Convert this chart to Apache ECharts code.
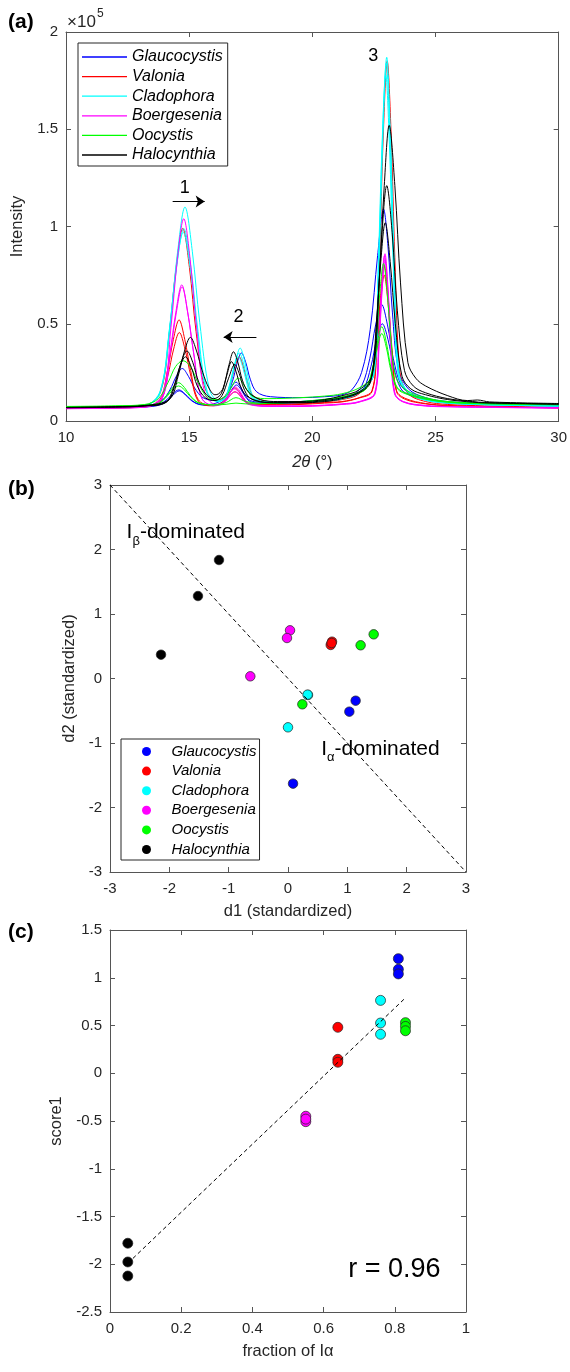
<!DOCTYPE html>
<html>
<head>
<meta charset="utf-8">
<script src="https://cdn.jsdelivr.net/npm/echarts@6/dist/echarts.min.js"></script>
<style>
  html, body { margin: 0; padding: 0; background: #fff; }
  #chart { width: 570px; height: 1372px; }
</style>
</head>
<body>
<div id="chart"></div>
<script>
// ---- (a) XRD profiles: [2theta (deg), intensity (x1e5)], three samples per species ----
const glaucocystisXRD = [
  [[10,0.068],[12,0.07],[13.2,0.076],[13.88,0.105],[14.22,0.16],[14.47,0.228],[14.72,0.27],[14.97,0.23],[15.22,0.17],[15.56,0.12],[16.1,0.105],[16.5,0.135],[16.76,0.205],[16.94,0.295],[17.12,0.35],[17.3,0.3],[17.48,0.215],[17.74,0.15],[18.3,0.125],[19.5,0.12],[20.5,0.125],[21.2,0.135],[21.6,0.16],[22.0,0.25],[22.35,0.47],[22.65,0.85],[22.89,1.09],[23.07,0.9],[23.25,0.56],[23.49,0.27],[23.9,0.165],[24.6,0.12],[25.5,0.1],[27,0.09],[30,0.08]],
  [[10,0.067],[12,0.069],[13.2,0.074],[13.78,0.086],[14.1,0.111],[14.34,0.141],[14.58,0.16],[14.82,0.141],[15.06,0.111],[15.38,0.088],[15.8,0.085],[16.3,0.104],[16.54,0.136],[16.72,0.176],[16.9,0.2],[17.08,0.176],[17.26,0.136],[17.5,0.104],[18.2,0.095],[19.5,0.1],[20.5,0.11],[21.2,0.12],[21.6,0.13],[22.01,0.182],[22.33,0.32],[22.57,0.494],[22.81,0.6],[23.05,0.494],[23.29,0.32],[23.61,0.182],[24.0,0.14],[24.6,0.115],[25.5,0.095],[27,0.088],[30,0.078]],
  [[10,0.066],[12,0.068],[13.2,0.072],[13.8,0.082],[14.12,0.106],[14.36,0.135],[14.6,0.155],[14.84,0.135],[15.08,0.106],[15.4,0.085],[15.9,0.08],[16.32,0.095],[16.56,0.125],[16.74,0.163],[16.92,0.185],[17.1,0.163],[17.28,0.125],[17.52,0.097],[18.2,0.09],[19.5,0.095],[20.5,0.105],[21.2,0.115],[21.7,0.13],[22.08,0.165],[22.38,0.28],[22.61,0.42],[22.84,0.5],[23.07,0.42],[23.3,0.28],[23.6,0.165],[24.0,0.13],[24.6,0.11],[25.5,0.092],[27,0.085],[30,0.076]]
];
const valoniaXRD = [
  [[10,0.066],[12,0.07],[13.2,0.08],[13.84,0.15],[14.2,0.46],[14.47,0.79],[14.74,0.99],[15.01,0.79],[15.28,0.46],[15.64,0.17],[16.1,0.105],[16.47,0.13],[16.7,0.2],[16.86,0.28],[17.03,0.33],[17.2,0.28],[17.37,0.2],[17.6,0.13],[18.2,0.1],[19.5,0.095],[20.5,0.1],[21.2,0.11],[21.9,0.14],[22.52,0.25],[22.73,0.84],[22.88,1.47],[23.04,1.85],[23.2,1.47],[23.35,0.84],[23.56,0.25],[23.9,0.14],[24.6,0.1],[25.5,0.085],[27,0.078],[30,0.07]],
  [[10,0.064],[12,0.067],[13.2,0.074],[13.81,0.11],[14.12,0.26],[14.36,0.42],[14.59,0.52],[14.82,0.42],[15.06,0.26],[15.37,0.11],[15.9,0.08],[16.29,0.092],[16.51,0.12],[16.68,0.151],[16.85,0.17],[17.02,0.151],[17.19,0.12],[17.41,0.092],[18.2,0.085],[19.5,0.088],[20.5,0.095],[21.2,0.1],[21.9,0.12],[22.42,0.156],[22.62,0.394],[22.77,0.646],[22.92,0.8],[23.07,0.646],[23.22,0.394],[23.42,0.156],[23.8,0.115],[24.6,0.09],[25.5,0.08],[27,0.075],[30,0.068]],
  [[10,0.065],[12,0.068],[13.2,0.074],[13.82,0.1],[14.13,0.23],[14.37,0.37],[14.6,0.455],[14.83,0.37],[15.07,0.23],[15.38,0.1],[15.9,0.078],[16.3,0.088],[16.52,0.11],[16.69,0.136],[16.86,0.15],[17.03,0.136],[17.2,0.11],[17.42,0.088],[18.2,0.082],[19.5,0.085],[20.5,0.092],[21.2,0.098],[21.9,0.118],[22.42,0.15],[22.62,0.37],[22.77,0.61],[22.92,0.75],[23.07,0.61],[23.22,0.37],[23.42,0.15],[23.8,0.11],[24.6,0.088],[25.5,0.078],[27,0.074],[30,0.067]]
];
const cladophoraXRD = [
  [[10,0.07],[12,0.073],[13.2,0.08],[13.83,0.157],[14.23,0.505],[14.53,0.87],[14.83,1.1],[15.13,0.87],[15.43,0.505],[15.83,0.16],[16.2,0.105],[16.51,0.122],[16.73,0.216],[16.9,0.315],[17.07,0.375],[17.24,0.315],[17.41,0.216],[17.63,0.122],[18.2,0.1],[19.5,0.1],[20.5,0.108],[21.2,0.118],[21.9,0.15],[22.52,0.25],[22.72,0.85],[22.87,1.48],[23.02,1.87],[23.17,1.48],[23.32,0.85],[23.52,0.25],[23.9,0.15],[24.6,0.11],[25.5,0.095],[27,0.085],[30,0.078]],
  [[10,0.07],[12,0.073],[13.2,0.08],[13.82,0.145],[14.2,0.46],[14.49,0.79],[14.78,0.99],[15.07,0.79],[15.36,0.46],[15.74,0.15],[16.2,0.1],[16.47,0.12],[16.69,0.205],[16.86,0.3],[17.03,0.35],[17.2,0.3],[17.37,0.205],[17.59,0.12],[18.2,0.098],[19.5,0.098],[20.5,0.105],[21.2,0.115],[21.9,0.148],[22.5,0.245],[22.7,0.84],[22.85,1.46],[23.0,1.84],[23.15,1.46],[23.3,0.84],[23.5,0.245],[23.9,0.148],[24.6,0.108],[25.5,0.093],[27,0.084],[30,0.077]],
  [[10,0.069],[12,0.072],[13.2,0.079],[13.8,0.14],[14.18,0.45],[14.47,0.78],[14.76,0.97],[15.05,0.78],[15.34,0.45],[15.72,0.145],[16.2,0.098],[16.44,0.118],[16.66,0.195],[16.83,0.28],[17.0,0.33],[17.17,0.28],[17.34,0.195],[17.56,0.118],[18.2,0.096],[19.5,0.096],[20.5,0.103],[21.2,0.113],[21.9,0.145],[22.48,0.24],[22.68,0.82],[22.83,1.42],[22.98,1.78],[23.13,1.42],[23.28,0.82],[23.48,0.24],[23.9,0.145],[24.6,0.106],[25.5,0.092],[27,0.083],[30,0.076]]
];
const boergeseniaXRD = [
  [[10,0.065],[12,0.068],[13.2,0.072],[13.92,0.14],[14.26,0.48],[14.52,0.83],[14.78,1.04],[15.04,0.83],[15.3,0.48],[15.64,0.14],[16.1,0.085],[16.32,0.09],[16.55,0.12],[16.71,0.155],[16.88,0.175],[17.05,0.155],[17.21,0.12],[17.44,0.09],[18.2,0.078],[19.5,0.078],[20.5,0.082],[21.2,0.088],[21.9,0.1],[22.55,0.145],[22.71,0.41],[22.83,0.69],[22.95,0.86],[23.07,0.69],[23.19,0.41],[23.35,0.145],[23.7,0.1],[24.6,0.08],[25.5,0.075],[27,0.072],[30,0.068]],
  [[10,0.064],[12,0.067],[13.2,0.072],[13.9,0.12],[14.22,0.35],[14.46,0.56],[14.7,0.7],[14.94,0.56],[15.18,0.35],[15.5,0.12],[16.0,0.08],[16.29,0.088],[16.52,0.115],[16.68,0.148],[16.85,0.165],[17.02,0.148],[17.18,0.115],[17.41,0.088],[18.2,0.076],[19.5,0.076],[20.5,0.08],[21.2,0.086],[21.9,0.098],[22.53,0.143],[22.69,0.4],[22.81,0.68],[22.93,0.85],[23.05,0.68],[23.17,0.4],[23.33,0.143],[23.7,0.098],[24.6,0.078],[25.5,0.074],[27,0.071],[30,0.067]],
  [[10,0.063],[12,0.066],[13.2,0.071],[13.91,0.118],[14.23,0.345],[14.47,0.55],[14.71,0.69],[14.95,0.55],[15.19,0.345],[15.51,0.118],[16.0,0.078],[16.3,0.085],[16.53,0.108],[16.69,0.136],[16.86,0.15],[17.03,0.136],[17.19,0.108],[17.42,0.085],[18.2,0.075],[19.5,0.075],[20.5,0.079],[21.2,0.085],[21.9,0.097],[22.55,0.14],[22.71,0.39],[22.83,0.665],[22.95,0.83],[23.07,0.665],[23.19,0.39],[23.35,0.14],[23.7,0.097],[24.6,0.077],[25.5,0.073],[27,0.07],[30,0.066]]
];
const oocystisXRD = [
  [[10,0.075],[12,0.078],[13.2,0.085],[13.75,0.115],[14.15,0.2],[14.45,0.28],[14.75,0.31],[15.05,0.28],[15.35,0.2],[15.75,0.12],[16.15,0.11],[16.5,0.13],[16.72,0.175],[16.88,0.21],[17.0,0.22],[17.15,0.2],[17.35,0.16],[17.6,0.125],[18.2,0.115],[19.5,0.12],[20.5,0.128],[21.2,0.14],[21.9,0.17],[22.39,0.225],[22.59,0.42],[22.74,0.66],[22.89,0.81],[23.04,0.66],[23.19,0.42],[23.39,0.225],[23.8,0.16],[24.6,0.12],[25.5,0.1],[27,0.092],[30,0.085]],
  [[10,0.073],[12,0.076],[13.2,0.082],[13.77,0.092],[14.09,0.13],[14.33,0.172],[14.57,0.197],[14.81,0.172],[15.05,0.13],[15.37,0.095],[16.0,0.082],[16.5,0.086],[16.9,0.092],[17.3,0.088],[18.2,0.09],[19.5,0.1],[20.5,0.112],[21.2,0.125],[21.8,0.145],[22.18,0.17],[22.44,0.27],[22.63,0.4],[22.82,0.485],[23.01,0.4],[23.2,0.27],[23.46,0.17],[23.9,0.14],[24.6,0.115],[25.5,0.098],[27,0.09],[30,0.084]],
  [[10,0.072],[12,0.075],[13.2,0.08],[13.77,0.09],[14.09,0.125],[14.33,0.16],[14.57,0.18],[14.81,0.16],[15.05,0.125],[15.37,0.093],[16.0,0.083],[16.5,0.095],[16.9,0.12],[17.3,0.1],[18.2,0.09],[19.5,0.098],[20.5,0.108],[21.2,0.12],[21.8,0.14],[22.18,0.165],[22.44,0.255],[22.63,0.375],[22.82,0.45],[23.01,0.375],[23.2,0.255],[23.46,0.165],[23.9,0.135],[24.6,0.112],[25.5,0.096],[27,0.088],[30,0.083]]
];
const halocynthiaXRD = [
  [[10,0.07],[12,0.074],[13.2,0.08],[14.21,0.113],[14.55,0.23],[14.8,0.355],[15.05,0.43],[15.3,0.36],[15.55,0.25],[15.8,0.17],[16.05,0.135],[16.2,0.14],[16.38,0.17],[16.62,0.29],[16.8,0.356],[16.98,0.3],[17.16,0.21],[17.4,0.15],[17.9,0.11],[18.6,0.1],[19.5,0.1],[20.5,0.11],[21.2,0.13],[21.9,0.16],[22.44,0.24],[22.71,0.71],[22.92,1.21],[23.12,1.52],[23.35,1.21],[23.58,0.71],[23.88,0.3],[24.2,0.22],[24.6,0.18],[25.5,0.13],[26.3,0.105],[26.7,0.108],[27.2,0.098],[30,0.09]],
  [[10,0.069],[12,0.072],[13.2,0.078],[14.11,0.1],[14.43,0.19],[14.67,0.3],[14.91,0.36],[15.15,0.3],[15.39,0.2],[15.7,0.135],[16.0,0.115],[16.3,0.14],[16.54,0.24],[16.72,0.305],[16.9,0.255],[17.08,0.18],[17.32,0.13],[17.9,0.1],[18.6,0.095],[19.5,0.095],[20.5,0.105],[21.2,0.12],[21.9,0.15],[22.38,0.215],[22.64,0.57],[22.83,0.97],[23.02,1.21],[23.24,0.97],[23.45,0.57],[23.74,0.26],[24.1,0.18],[24.6,0.145],[25.5,0.115],[26.5,0.1],[27,0.095],[30,0.087]],
  [[10,0.068],[12,0.071],[13.2,0.077],[14.05,0.095],[14.37,0.175],[14.61,0.275],[14.85,0.33],[15.09,0.275],[15.33,0.18],[15.65,0.12],[16.05,0.105],[16.33,0.13],[16.6,0.22],[16.85,0.29],[17.03,0.245],[17.21,0.17],[17.45,0.12],[17.9,0.098],[18.6,0.093],[19.5,0.093],[20.5,0.1],[21.2,0.115],[21.9,0.145],[22.36,0.2],[22.6,0.5],[22.78,0.82],[22.96,1.02],[23.16,0.82],[23.37,0.5],[23.64,0.23],[24.0,0.165],[24.6,0.135],[25.5,0.11],[26.5,0.097],[27,0.093],[30,0.086]]
];
// peak numbers [2theta, intensity, text] and shift arrows [from, to, intensity]
const peakLabels = [[14.82, 1.2, '1'], [17.0, 0.535, '2'], [22.47, 1.876, '3']];
const shiftArrows = [[14.33, 15.63, 1.128], [17.73, 16.4, 0.432]];

// ---- (b) standardized descriptors [d1, d2] ----
const glaucocystisD = [[1.14, -0.344], [1.034, -0.514], [0.085, -1.63]];
const valoniaD = [[0.742, 0.571], [0.72, 0.52], [0.735, 0.55]];
const cladophoraD = [[0.337, -0.256], [0.0, -0.757], [0.33, -0.25]];
const boergeseniaD = [[0.034, 0.747], [-0.017, 0.628], [-0.635, 0.034]];
const oocystisD = [[1.444, 0.685], [1.224, 0.515], [0.242, -0.4]];
const halocynthiaD = [[-1.163, 1.837], [-1.517, 1.279], [-2.14, 0.369]];
const dividerLine = [[-3, 3], [3, -3]];

// ---- (c) fraction of I-alpha vs score1 ----
const glaucocystisScore = [[0.81, 1.2], [0.81, 1.088], [0.81, 1.04]];
const valoniaScore = [[0.64, 0.481], [0.64, 0.146], [0.64, 0.115]];
const cladophoraScore = [[0.76, 0.763], [0.76, 0.526], [0.76, 0.408]];
const boergeseniaScore = [[0.55, -0.45], [0.55, -0.507], [0.55, -0.48]];
const oocystisScore = [[0.83, 0.53], [0.83, 0.49], [0.83, 0.445]];
const halocynthiaScore = [[0.05, -1.78], [0.05, -1.976], [0.05, -2.123]];
const fitLine = [[0.05, -1.99], [0.83, 0.79]];

const species = ['Glaucocystis', 'Valonia', 'Cladophora', 'Boergesenia', 'Oocystis', 'Halocynthia'];
const colors = ['#0000ff', '#ff0000', '#00ffff', '#ff00ff', '#00ff00', '#000000'];
const xrd = [glaucocystisXRD, valoniaXRD, cladophoraXRD, boergeseniaXRD, oocystisXRD, halocynthiaXRD];
const dPoints = [glaucocystisD, valoniaD, cladophoraD, boergeseniaD, oocystisD, halocynthiaD];
const scorePoints = [glaucocystisScore, valoniaScore, cladophoraScore, boergeseniaScore, oocystisScore, halocynthiaScore];

const font = 'Liberation Sans, Arial, Helvetica, sans-serif';
const textColor = '#262626';
const boxColor = '#555';

function xAxisFor(grid, min, max, interval, top, name, nameGap) {
  return {
    type: 'value', gridIndex: grid, min: min, max: max, interval: interval,
    position: top ? 'top' : 'bottom',
    axisLine: { show: true, onZero: false, lineStyle: { color: boxColor, width: 1 } },
    axisTick: { show: true, inside: true, length: 5, lineStyle: { color: boxColor } },
    axisLabel: { show: !top, margin: 9, color: textColor, fontSize: 15, fontFamily: font },
    splitLine: { show: false },
    name: top ? '' : name, nameLocation: 'middle', nameGap: nameGap,
    nameTextStyle: { color: textColor, fontSize: 16.5, fontFamily: font,
      rich: { i: { fontStyle: 'italic', fontSize: 16.5, fontFamily: font, color: textColor } } }
  };
}
function yAxisFor(grid, min, max, interval, right, name, nameGap) {
  return {
    type: 'value', gridIndex: grid, min: min, max: max, interval: interval,
    position: right ? 'right' : 'left',
    axisLine: { show: true, onZero: false, lineStyle: { color: boxColor, width: 1 } },
    axisTick: { show: true, inside: true, length: 5, lineStyle: { color: boxColor } },
    axisLabel: { show: !right, margin: 8, color: textColor, fontSize: 15, fontFamily: font },
    splitLine: { show: false },
    name: right ? '' : name, nameLocation: 'middle', nameGap: nameGap,
    nameTextStyle: { color: textColor, fontSize: 16.5, fontFamily: font }
  };
}

const series = [];
xrd.forEach((curves, i) => {
  curves.forEach(c => {
    series.push({
      name: species[i], type: 'line', xAxisIndex: 0, yAxisIndex: 0,
      data: c, symbol: 'none', smooth: 0.35, silent: true,
      lineStyle: { color: colors[i], width: 1 }, itemStyle: { color: colors[i] }
    });
  });
});
series.push({
  type: 'scatter', xAxisIndex: 0, yAxisIndex: 0, data: [], silent: true,
  markPoint: {
    symbol: 'circle', symbolSize: 0, silent: true,
    label: { show: true, position: 'inside', color: '#000', fontSize: 18, fontFamily: font, formatter: p => p.name },
    data: peakLabels.map(p => ({ name: p[2], coord: [p[0], p[1]] }))
  },
  markLine: {
    symbol: ['none', 'arrow'], symbolSize: 9, silent: true, animation: false,
    label: { show: false },
    lineStyle: { color: '#000', type: 'solid', width: 1.2 },
    data: shiftArrows.map(a => [{ coord: [a[0], a[2]] }, { coord: [a[1], a[2]] }])
  }
});

// (b)
series.push({
  type: 'line', xAxisIndex: 2, yAxisIndex: 2, data: dividerLine, symbol: 'none', silent: true,
  lineStyle: { color: '#000', width: 1, type: [4, 3] },
  markPoint: {
    symbol: 'circle', symbolSize: 0, silent: true,
    label: {
      show: true, position: 'right', distance: 0, formatter: p => p.name,
      rich: {
        m: { fontSize: 21, fontFamily: font, color: '#000', verticalAlign: 'bottom', padding: [0, 0, 5, 0], lineHeight: 22 },
        s: { fontSize: 13, fontFamily: font, color: '#000', verticalAlign: 'bottom', lineHeight: 14 }
      }
    },
    data: [
      { name: '{m|I}{s|β}{m|-dominated}', coord: [-2.72, 2.2] },
      { name: '{m|I}{s|α}{m|-dominated}', coord: [0.56, -1.16] }
    ]
  }
});
dPoints.forEach((pts, i) => {
  series.push({
    name: species[i] + ' (b)', type: 'scatter', xAxisIndex: 2, yAxisIndex: 2,
    data: pts, symbol: 'circle', symbolSize: 9.5, silent: true,
    itemStyle: { color: colors[i], borderColor: '#222', borderWidth: 0.7, opacity: 1 }
  });
});

// (c)
series.push({
  type: 'line', xAxisIndex: 4, yAxisIndex: 4, data: fitLine, symbol: 'none', silent: true,
  lineStyle: { color: '#000', width: 1, type: [4, 3] },
  markPoint: {
    symbol: 'circle', symbolSize: 0, silent: true,
    label: { show: true, position: 'right', distance: 0, formatter: p => p.name, fontSize: 27, fontFamily: font, color: '#000' },
    data: [{ name: 'r = 0.96', coord: [0.669, -2.06] }]
  }
});
scorePoints.forEach((pts, i) => {
  series.push({
    name: species[i] + ' (c)', type: 'scatter', xAxisIndex: 4, yAxisIndex: 4,
    data: pts, symbol: 'circle', symbolSize: 10, silent: true,
    itemStyle: { color: colors[i], borderColor: '#222', borderWidth: 0.7, opacity: 1 }
  });
});

const chart = echarts.init(document.getElementById('chart'));
chart.setOption({
  animation: false,
  backgroundColor: '#fff',
  grid: [
    { left: 66, top: 32, width: 494, height: 389 },
    { left: 110, top: 485, width: 356, height: 387 },
    { left: 110, top: 930, width: 356, height: 382 }
  ],
  xAxis: [
    xAxisFor(0, 10, 30, 5, false, '{i|2θ} (°)', 33),
    xAxisFor(0, 10, 30, 5, true),
    xAxisFor(1, -3, 3, 1, false, 'd1 (standardized)', 31),
    xAxisFor(1, -3, 3, 1, true),
    xAxisFor(2, 0, 1, 0.2, false, 'fraction of Iα', 31),
    xAxisFor(2, 0, 1, 0.2, true)
  ],
  yAxis: [
    yAxisFor(0, 0, 2, 0.5, false, 'Intensity', 39),
    yAxisFor(0, 0, 2, 0.5, true),
    yAxisFor(1, -3, 3, 1, false, 'd2 (standardized)', 26),
    yAxisFor(1, -3, 3, 1, true),
    yAxisFor(2, -2.5, 1.5, 0.5, false, 'score1', 38),
    yAxisFor(2, -2.5, 1.5, 0.5, true)
  ],
  legend: [
    {
      data: species, orient: 'vertical', left: 78, top: 43,
      icon: 'rect', itemWidth: 45, itemHeight: 1.3, itemGap: 3.6, padding: [6, 5, 3, 4],
      borderColor: '#262626', borderWidth: 1, backgroundColor: '#fff',
      selectedMode: false,
      textStyle: { fontStyle: 'italic', fontSize: 16, lineHeight: 16, fontFamily: font, color: '#000' }
    },
    {
      data: species.map(s => s + ' (b)'), orient: 'vertical', left: 121, top: 739,
      icon: 'circle', itemWidth: 40, itemHeight: 9, itemGap: 4.6, padding: [5, 3, 3, 21],
      borderColor: '#262626', borderWidth: 1, backgroundColor: '#fff',
      selectedMode: false, itemStyle: { borderWidth: 0 },
      formatter: n => n.replace(' (b)', ''),
      textStyle: { fontStyle: 'italic', fontSize: 15, lineHeight: 15, fontFamily: font, color: '#000' }
    }
  ],
  graphic: [
    { type: 'text', left: 8, top: 12, style: { text: '(a)', font: 'bold 21px ' + font, fill: '#000' } },
    { type: 'text', left: 8, top: 479, style: { text: '(b)', font: 'bold 21px ' + font, fill: '#000' } },
    { type: 'text', left: 8, top: 922, style: { text: '(c)', font: 'bold 21px ' + font, fill: '#000' } },
    { type: 'text', left: 67, top: 14, style: { text: '×10', font: '17px ' + font, fill: textColor } },
    { type: 'text', left: 97, top: 8, style: { text: '5', font: '12px ' + font, fill: textColor } }
  ],
  series: series
});
</script>
</body>
</html>
